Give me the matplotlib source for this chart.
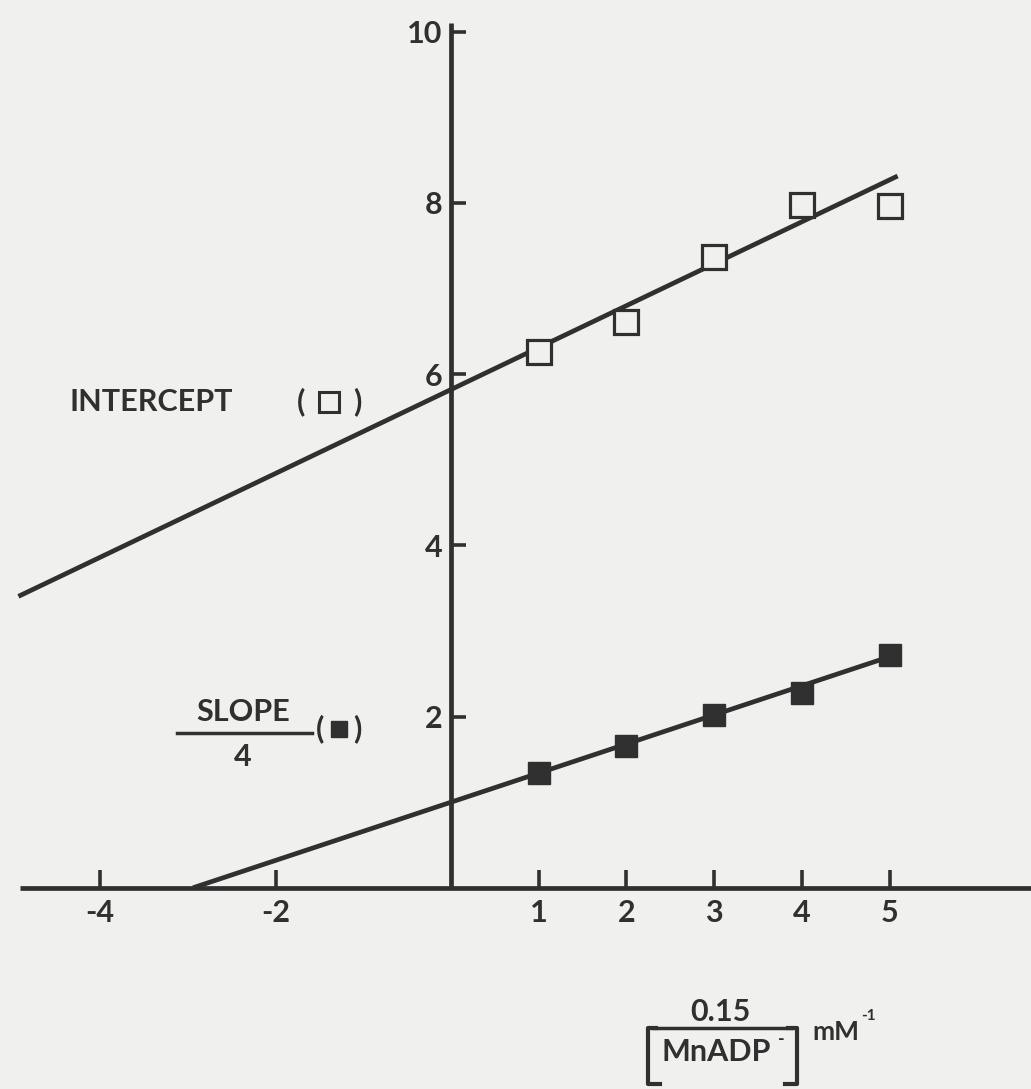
import matplotlib
matplotlib.use("Agg")
import matplotlib.pyplot as plt
import numpy as np

# ---- data ----
x_points = [1, 2, 3, 4, 5]
intercept_vals = [6.26, 6.61, 7.37, 7.98, 7.96]
slope4_vals = [1.34, 1.66, 2.02, 2.28, 2.72]

# fitted lines: (slope, y-intercept) and drawn x-range
intercept_fit = [0.49, 5.82]
intercept_fit_range = [-4.93, 5.09]
slope_fit = [0.34, 1.0]
slope_fit_range = [-2.94, 5.0]

x_ticks = [-4, -2, 1, 2, 3, 4, 5]
x_tick_labels = ["-4", "-2", "1", "2", "3", "4", "5"]
y_ticks = [2, 4, 6, 8, 10]
y_tick_labels = ["2", "4", "6", "8", "10"]

BG = "#f0f0ee"
INK = "#303030"
FONT = ["Lato", "DejaVu Sans"]
plt.rcParams["font.family"] = FONT
plt.rcParams["font.weight"] = "bold"
FS = 22

fig = plt.figure(figsize=(10.31, 10.89), dpi=100, facecolor=BG)
ax = fig.add_axes([0, 0, 1, 1], facecolor=BG)
ax.set_xlim(-5.14, 6.61)
ax.set_ylim(-2.35, 10.37)

# spines as crossing axes
for s in ["top", "right"]:
    ax.spines[s].set_visible(False)
ax.spines["left"].set_position(("data", 0))
ax.spines["bottom"].set_position(("data", 0))
ax.spines["left"].set_bounds(0, 10.1)
ax.spines["bottom"].set_bounds(-4.91, 6.61)
for s in ["left", "bottom"]:
    ax.spines[s].set_linewidth(3.4)
    ax.spines[s].set_color(INK)
    ax.spines[s].set_capstyle("butt")

ax.set_xticks(x_ticks)
ax.set_xticklabels(x_tick_labels)
ax.set_yticks(y_ticks)
ax.set_yticklabels(y_tick_labels)
ax.tick_params(axis="x", direction="in", length=13, width=2.6, color=INK,
               labelsize=FS, labelcolor=INK, pad=8)
ax.tick_params(axis="y", direction="in", length=11, width=2.6, color=INK,
               labelsize=FS, labelcolor=INK, pad=6)

# fitted lines
xi = np.array(intercept_fit_range)
ax.plot(xi, intercept_fit[0] * xi + intercept_fit[1], color=INK, lw=3.4,
        solid_capstyle="butt", zorder=3)
xs = np.array(slope_fit_range)
ax.plot(xs, slope_fit[0] * xs + slope_fit[1], color=INK, lw=3.4,
        solid_capstyle="butt", zorder=3)

# data points
ax.plot(x_points, intercept_vals, ls="none", marker="s", ms=17,
        mfc=BG, mec=INK, mew=2.3, zorder=4)
ax.plot(x_points, slope4_vals, ls="none", marker="s", ms=15.5,
        mfc=INK, mec=INK, mew=1, zorder=4)

# labels (figure-pixel placement)
def px(x, y):
    return x / 1031, 1 - y / 1089

def fx(x):
    return x / 1031

def fy(y):
    return 1 - y / 1089

fig.text(*px(70, 402), "INTERCEPT", fontsize=FS, color=INK, va="center", ha="left")
fig.text(*px(301, 402), "(", fontsize=FS, color=INK, va="center", ha="center")
fig.text(*px(357, 402), ")", fontsize=FS, color=INK, va="center", ha="center")
fig.add_artist(plt.Line2D([fx(329)], [fy(402)], ls="none", marker="s", ms=15,
                          mfc=BG, mec=INK, mew=2.2))

fig.text(*px(243, 712), "SLOPE", fontsize=FS, color=INK, va="center", ha="center")
fig.add_artist(plt.Line2D([fx(177), fx(312)], [fy(733)] * 2, color=INK, lw=2.5))
fig.text(*px(243, 757), "4", fontsize=FS, color=INK, va="center", ha="center")
fig.text(*px(320, 729), "(", fontsize=FS, color=INK, va="center", ha="center")
fig.text(*px(357, 729), ")", fontsize=FS, color=INK, va="center", ha="center")
fig.add_artist(plt.Line2D([fx(339)], [fy(729)], ls="none", marker="s", ms=11.5,
                          mfc=INK, mec=INK, mew=1))

# x-axis label
fig.text(*px(720, 1012), "0.15", fontsize=FS, color=INK, va="center", ha="center")
fig.add_artist(plt.Line2D([fx(653), fx(792)], [fy(1028)] * 2, color=INK, lw=2.5))
fig.text(*px(716, 1052), "MnADP", fontsize=FS, color=INK, va="center", ha="center")
fig.text(*px(781, 1040), "-", fontsize=13, color=INK, va="center", ha="center")
# brackets
fig.add_artist(plt.Line2D([fx(656), fx(648), fx(648), fx(660)],
                          [fy(1028), fy(1028), fy(1084), fy(1084)],
                          color=INK, lw=3.0))
fig.add_artist(plt.Line2D([fx(788), fx(797), fx(797), fx(785)],
                          [fy(1028), fy(1028), fy(1084), fy(1084)],
                          color=INK, lw=3.0))
fig.text(*px(812, 1032), "mM", fontsize=19, color=INK, va="center", ha="left")
fig.text(*px(861, 1016), "-1", fontsize=11, color=INK, va="center", ha="left")

fig.savefig("out.png", dpi=100, facecolor=BG)
